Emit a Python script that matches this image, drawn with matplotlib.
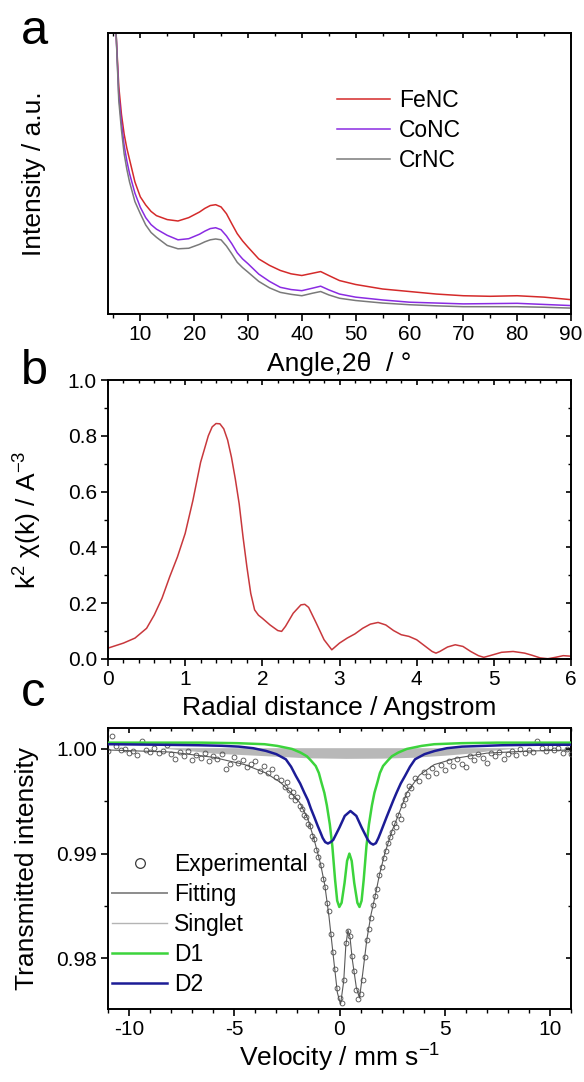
import numpy as np
import matplotlib
matplotlib.use("Agg")
import matplotlib.pyplot as plt
from matplotlib.ticker import MultipleLocator, FormatStrFormatter
from matplotlib.lines import Line2D
from matplotlib.markers import TICKDOWN, TICKLEFT

plt.rcParams['font.family'] = ['Liberation Sans', 'DejaVu Sans']
plt.rcParams['mathtext.fontset'] = 'custom'
plt.rcParams['mathtext.rm'] = 'Liberation Sans'
plt.rcParams['mathtext.default'] = 'regular'
plt.rcParams['axes.unicode_minus'] = False

# ---- panel a : XRD (arbitrary units, 0 = bottom of frame, 100 = top)
xrd_angle = [5.0, 5.5, 6, 6.5, 7, 7.5, 8, 8.5, 9, 10, 11, 12, 13, 15, 17, 19, 21, 22, 23, 24, 25, 26,
             27, 28, 29, 30, 32, 34, 36, 38, 40, 42, 43.5, 45, 47, 50, 55, 60, 65, 70, 75, 80, 85, 90]
fenc = [118, 100, 81, 71, 64, 59, 55, 51, 47, 41.7, 38.8, 36.5, 35, 33.6, 33.1, 34.3, 36.3, 37.6,
        38.6, 38.9, 38.1, 35.7, 32.1, 28.6, 26.0, 23.8, 19.6, 17.3, 15.5, 14.3, 13.7, 14.5, 15.1,
        13.7, 11.9, 10.5, 8.9, 8.0, 7.1, 6.5, 6.3, 6.5, 6.0, 5.1]
conc = [118, 100, 78, 68, 60, 54.5, 50, 46.5, 43, 38, 34.3, 31.8, 30.2, 28, 26.4, 26.8, 28.4, 29.5,
        30.4, 30.7, 30.0, 27.8, 25.0, 21.8, 19.6, 17.9, 14.2, 11.6, 9.5, 8.7, 8.3, 9.2, 9.9, 8.6,
        7.1, 6.0, 5.0, 4.2, 3.9, 3.6, 3.7, 3.8, 3.4, 3.0]
crnc = [118, 100, 76, 65.5, 57, 51.5, 47, 43.5, 40, 35.7, 31.7, 29.0, 27.3, 24.4, 23.2, 23.4, 24.8,
        25.7, 26.4, 26.7, 26.4, 24.2, 21.4, 18.4, 16.5, 14.9, 11.6, 9.3, 7.7, 7.0, 6.5, 7.4, 8.0,
        6.8, 5.6, 4.8, 3.9, 3.3, 2.9, 2.6, 2.6, 2.6, 2.4, 2.1]

# ---- panel b : EXAFS
r_dist = [0, 0.2, 0.35, 0.5, 0.6, 0.7, 0.8, 0.9, 1.0, 1.1, 1.2, 1.3, 1.35, 1.4, 1.45, 1.5, 1.55, 1.6,
          1.65, 1.7, 1.75, 1.8, 1.85, 1.9, 1.95, 2.0, 2.1, 2.2, 2.25, 2.3, 2.4, 2.5, 2.55, 2.6, 2.7,
          2.8, 2.9, 3.0, 3.1, 3.2, 3.3, 3.4, 3.5, 3.6, 3.7, 3.8, 3.9, 4.0, 4.1, 4.2, 4.25, 4.3, 4.4,
          4.5, 4.6, 4.7, 4.8, 4.87, 4.95, 5.1, 5.25, 5.4, 5.5, 5.6, 5.7, 5.8, 5.9, 6.0]
chi_k2 = [0.039, 0.057, 0.075, 0.11, 0.158, 0.218, 0.295, 0.366, 0.45, 0.568, 0.705, 0.800, 0.832,
          0.844, 0.843, 0.825, 0.785, 0.723, 0.645, 0.556, 0.437, 0.33, 0.235, 0.176, 0.157, 0.146,
          0.122, 0.102, 0.099, 0.117, 0.164, 0.194, 0.196, 0.185, 0.128, 0.069, 0.033, 0.057,
          0.075, 0.09, 0.11, 0.125, 0.131, 0.122, 0.102, 0.087, 0.081, 0.069, 0.048, 0.027, 0.021,
          0.027, 0.043, 0.051, 0.045, 0.027, 0.012, 0.006, 0.012, 0.024, 0.027, 0.021, 0.013,
          0.004, 0.001, 0.006, 0.012, 0.010]

# ---- panel c : Moessbauer
exp_v = [-11.0, -10.8, -10.6, -10.4, -10.2, -10.0, -9.8, -9.6, -9.4, -9.2, -9.0, -8.8, -8.6, -8.4,
         -8.2, -8.0, -7.8, -7.6, -7.4, -7.2, -7.0, -6.8, -6.6, -6.4, -6.2, -6.0, -5.8, -5.6, -5.4,
         -5.2, -5.0, -4.8, -4.6, -4.4, -4.2, -4.0, -3.8, -3.6, -3.4, -3.2, -3.0, -2.8, -2.6,
         -2.5, -2.4, -2.3, -2.2, -2.1, -2.0, -1.9, -1.8, -1.7, -1.6, -1.5, -1.4, -1.3, -1.2, -1.1,
         -1.0, -0.9, -0.8, -0.7, -0.6, -0.5, -0.4, -0.3, -0.2, -0.1, 0.0, 0.1, 0.2, 0.3, 0.4, 0.5,
         0.6, 0.7, 0.8, 0.9, 1.0, 1.1, 1.2, 1.3, 1.4, 1.5, 1.6, 1.7, 1.8, 1.9, 2.0, 2.1, 2.2, 2.3,
         2.4, 2.5, 2.6, 2.7, 2.8, 2.9, 3.0, 3.1, 3.2, 3.3, 3.4,
         3.6, 3.8, 4.0, 4.2, 4.4, 4.6, 4.8, 5.0, 5.2, 5.4, 5.6, 5.8, 6.0, 6.2, 6.4, 6.6, 6.8, 7.0,
         7.2, 7.4, 7.6, 7.8, 8.0, 8.2, 8.4, 8.6, 8.8, 9.0, 9.2, 9.4, 9.6, 9.8, 10.0, 10.2, 10.4,
         10.6, 10.8, 11.0]
exp_t = [0.9998, 1.0012, 1.0003, 0.9999, 1.0000, 0.9996, 0.9998, 0.9994, 1.0008, 0.9999, 0.9997,
         1.0001, 0.9996, 0.9998, 1.0004, 0.9995, 0.9990, 0.9997, 0.9993, 0.9998, 0.9989, 0.9994,
         0.9991, 0.9996, 0.9988, 0.9993, 0.9990, 0.9995, 0.9981, 0.9986, 0.9992, 0.9987, 0.9989,
         0.9983, 0.9986, 0.9988, 0.9979, 0.9984, 0.9977, 0.9981, 0.9973, 0.9970, 0.9964,
         0.9968, 0.9961, 0.9955, 0.9959, 0.9951, 0.9954, 0.9945, 0.9943, 0.9937, 0.9935, 0.9928,
         0.9926, 0.9917, 0.9914, 0.9903, 0.9897, 0.9889, 0.9876, 0.9868, 0.9853, 0.9845, 0.9823,
         0.9806, 0.9790, 0.9772, 0.9762, 0.9757, 0.9779, 0.9815, 0.9826, 0.9821, 0.9802, 0.9788,
         0.9770, 0.9761, 0.9766, 0.9779, 0.9801, 0.9817, 0.9828, 0.9838, 0.9851, 0.9859, 0.9866,
         0.9880, 0.9887, 0.9896, 0.9902, 0.9910, 0.9916, 0.9921, 0.9929, 0.9925, 0.9937, 0.9933,
         0.9946, 0.9952, 0.9957, 0.9965, 0.9963,
         0.9972, 0.9969, 0.9978, 0.9974, 0.9982, 0.9977, 0.9985, 0.9980, 0.9988, 0.9984, 0.9990,
         0.9986, 0.9983, 0.9993, 0.9989, 0.9995, 0.9991, 0.9987, 0.9996, 0.9993, 0.9997, 0.9990,
         0.9995, 0.9998, 0.9994, 1.0000, 0.9996, 0.9999, 0.9997, 1.0008, 1.0001, 0.9998, 1.0002,
         0.9999, 1.0001, 0.9996, 1.0000, 0.9995]

fit_v = [-11, -8, -6, -4.5, -3.5, -2.8, -2.3, -1.9, -1.5, -1.2, -0.9, -0.7, -0.5, -0.3, -0.1, 0.05,
         0.2, 0.3, 0.4, 0.5, 0.6, 0.8, 0.95, 1.1, 1.3, 1.5, 1.7, 1.9, 2.15, 2.5, 2.8, 3.2, 3.8, 4.5,
         5.5, 7, 9, 11]
fit_t = [0.9999, 0.9997, 0.9992, 0.9985, 0.9977, 0.9968, 0.9958, 0.9949, 0.9933, 0.9913, 0.9890,
         0.9870, 0.9840, 0.9803, 0.9767, 0.9756, 0.9778, 0.9812, 0.9827, 0.9820, 0.9800, 0.9772,
         0.9762, 0.9785, 0.9818, 0.9842, 0.9860, 0.9880, 0.9900, 0.9922, 0.9937, 0.9958, 0.9975,
         0.9985, 0.9991, 0.9996, 0.9998, 0.9999]

singlet_v = [-8.5, -7.2, -6.0, -4.5, -3.0, -1.5, 0.3, 2.0, 3.5, 5.0, 6.2, 7.2, 8.5]
singlet_t = [1.0001, 0.99985, 0.9996, 0.99945, 0.9993, 0.99915, 0.9991, 0.99912, 0.9992, 0.9994,
             0.9996, 0.99985, 1.0001]
singlet_base = 1.00012

d1_v = [-11, -6.56, -4.86, -3.56, -2.96, -2.26, -1.85, -1.55, -1.36, -1.13, -0.98, -0.86, -0.72,
        -0.6, -0.46, -0.34, -0.21, -0.11, -0.01, 0.1, 0.24, 0.36, 0.47, 0.58, 0.7, 0.85, 0.95,
        1.05, 1.15, 1.28, 1.4, 1.54, 1.66, 1.8, 1.92, 2.07, 2.3, 2.49, 2.79, 3.2, 3.9, 4.5, 5.8,
        7.5, 11]
d1_t = [1.0006, 1.0006, 1.00055, 1.00045, 1.00029, 1.0000, 0.99965, 0.9993, 0.9989, 0.99837,
        0.9977, 0.9968, 0.99581, 0.9946, 0.9928, 0.9907, 0.9875, 0.9855, 0.9849, 0.9853, 0.9872,
        0.9893, 0.9900, 0.9893, 0.9872, 0.9853, 0.9849, 0.9855, 0.9875, 0.9907, 0.9928, 0.9946,
        0.99581, 0.9968, 0.9977, 0.99837, 0.9989, 0.9993, 0.99965, 1.0000, 1.00029, 1.00045,
        1.00055, 1.0006, 1.0006]

d2_v = [-11, -8.5, -6.66, -5.6, -4.78, -4.1, -3.49, -3.0, -2.55, -2.3, -2.07, -1.87, -1.67, -1.5,
        -1.36, -1.2, -1.03, -0.9, -0.8, -0.68, -0.55, -0.42, -0.3, -0.15, 0.0, 0.25, 0.52, 0.8,
        1.05, 1.2, 1.35, 1.47, 1.6, 1.73, 1.85, 1.95, 2.07, 2.24, 2.4, 2.56, 2.71, 2.91, 3.11,
        3.35, 3.59, 4.04, 4.53, 5.1, 5.82, 7.7, 9.5, 11]
d2_t = [1.00045, 1.0004, 1.00035, 1.0003, 1.00022, 1.00007, 0.99981, 0.9995, 0.99901, 0.9983,
        0.99741, 0.9967, 0.99581, 0.9951, 0.9943, 0.9935, 0.99262, 0.9920, 0.9915, 0.9911,
        0.99096, 0.9911, 0.9913, 0.9919, 0.9925, 0.9936, 0.99407, 0.9936, 0.9925, 0.9919,
        0.9913, 0.9910, 0.99086, 0.9910, 0.9915, 0.9920, 0.99262, 0.9935, 0.9943, 0.9951,
        0.99581, 0.9967, 0.99741, 0.9983, 0.99901, 0.9995, 0.99981, 1.00007, 1.00022, 1.00035,
        1.0004, 1.0004]

W, H = 584, 1082
fig = plt.figure(figsize=(W / 100, H / 100), dpi=100)

def frame(top, bottom):
    return fig.add_axes([108 / W, 1 - bottom / H, 463 / W, (bottom - top) / H])

def inner_ticks(ax, axis, locs, lim, size, width):
    # mirrored ticks on top / right, pointing into the frame
    locs = [v for v in locs if lim[0] - 1e-9 <= v <= lim[1] + 1e-9]
    if axis == 'x':
        ax.plot(locs, [1] * len(locs), ls='none', marker=TICKDOWN, ms=size, mew=width,
                color='black', transform=ax.get_xaxis_transform(), clip_on=False, zorder=10)
    else:
        ax.plot([1] * len(locs), locs, ls='none', marker=TICKLEFT, ms=size, mew=width,
                color='black', transform=ax.get_yaxis_transform(), clip_on=False, zorder=10)

def style(ax, xmaj, xmin, ymaj=None, ymin=None):
    for s in ax.spines.values():
        s.set_linewidth(1.4)
    ax.xaxis.set_major_locator(MultipleLocator(xmaj))
    ax.xaxis.set_minor_locator(MultipleLocator(xmin))
    if ymaj is not None:
        ax.yaxis.set_major_locator(MultipleLocator(ymaj))
        ax.yaxis.set_minor_locator(MultipleLocator(ymin))
    else:
        ax.set_yticks([])
    ax.tick_params(which='major', direction='out', length=5, width=1.2, labelsize=15, pad=3)
    ax.tick_params(which='minor', direction='out', length=3, width=1.0)
    ax.tick_params(which='both', top=False, right=False)
    xl, yl = ax.get_xlim(), ax.get_ylim()
    inner_ticks(ax, 'x', ax.xaxis.get_majorticklocs(), xl, 3.6, 1.2)
    inner_ticks(ax, 'x', ax.xaxis.get_minorticklocs(), xl, 2.2, 1.0)
    if ymaj is not None:
        inner_ticks(ax, 'y', ax.yaxis.get_majorticklocs(), yl, 3.6, 1.2)
        inner_ticks(ax, 'y', ax.yaxis.get_minorticklocs(), yl, 2.2, 1.0)
    ax.set_xlim(xl)
    ax.set_ylim(yl)

# a
axa = frame(33, 314)
axa.plot(xrd_angle, fenc, color='#d42a2a', lw=1.1, label='FeNC')
axa.plot(xrd_angle, conc, color='#8a2be2', lw=1.1, label='CoNC')
axa.plot(xrd_angle, crnc, color='#7a7a7a', lw=1.1, label='CrNC')
axa.set_xlim(4, 90)
axa.set_ylim(0, 100)
axa.set_xlabel('Angle,2θ  / °', fontsize=19, labelpad=6)
axa.set_ylabel('Intensity / a.u.', fontsize=19)
axa.yaxis.set_label_coords(-0.133, 0.5)
axa.legend(loc='upper left', bbox_to_anchor=(0.495, 0.80), frameon=False, fontsize=16.5,
           handlelength=2.3, handletextpad=0.4, labelspacing=0.3, borderpad=0, borderaxespad=0)
style(axa, 10, 5)

# b
axb = frame(380, 659)
axb.plot(r_dist, chi_k2, color='#c8383c', lw=1.1)
axb.set_xlim(0, 6)
axb.set_ylim(0, 1.0)
axb.yaxis.set_major_formatter(FormatStrFormatter('%.1f'))
axb.set_xlabel('Radial distance / Angstrom', fontsize=19, labelpad=5)
axb.set_ylabel(r'k$^2$ χ(k) / A$^{-3}$', fontsize=19)
axb.yaxis.set_label_coords(-0.138, 0.5)
style(axb, 1, 0.2, 0.2, 0.1)

# c
axc = frame(728, 1009)
axc.fill_between(singlet_v, singlet_t, singlet_base, color='#b8b8b8', lw=0, zorder=1)
axc.plot(fit_v, fit_t, color='#5a5a5a', lw=0.8, zorder=2)
axc.plot(exp_v, exp_t, 'o', mfc='none', mec='#4a4a4a', mew=0.6, ms=3.5, zorder=3)
axc.plot(d1_v, d1_t, color='#3cd43c', lw=1.8, zorder=4)
axc.plot(d2_v, d2_t, color='#1c1c96', lw=1.8, zorder=5)
axc.set_xlim(-11, 11)
axc.set_ylim(0.97515, 1.0020)
axc.yaxis.set_major_formatter(FormatStrFormatter('%.2f'))
axc.set_xlabel(r'Velocity / mm s$^{-1}$', fontsize=19, labelpad=2)
axc.set_ylabel('Transmitted intensity', fontsize=19)
axc.yaxis.set_label_coords(-0.15, 0.5)
handles = [Line2D([], [], ls='none', marker='o', mfc='none', mec='#3a3a3a', mew=0.9, ms=7),
           Line2D([], [], color='#8c8c8c', lw=1.4),
           Line2D([], [], color='#b4b4b4', lw=1.0),
           Line2D([], [], color='#3cd43c', lw=1.8),
           Line2D([], [], color='#1c1c96', lw=1.8)]
axc.legend(handles, ['Experimental', 'Fitting', 'Singlet', 'D1', 'D2'], loc='upper left',
           bbox_to_anchor=(0.009, 0.555), frameon=False, fontsize=16.5, handlelength=2.4,
           handletextpad=0.3, labelspacing=0.3, borderpad=0, borderaxespad=0)
style(axc, 5, 1, 0.01, 0.005)

for lab, y in (('a', 44), ('b', 384), ('c', 706)):
    fig.text(21 / W, 1 - y / H, lab, fontsize=35, va='baseline', ha='left')

fig.savefig('out.png', dpi=100)
